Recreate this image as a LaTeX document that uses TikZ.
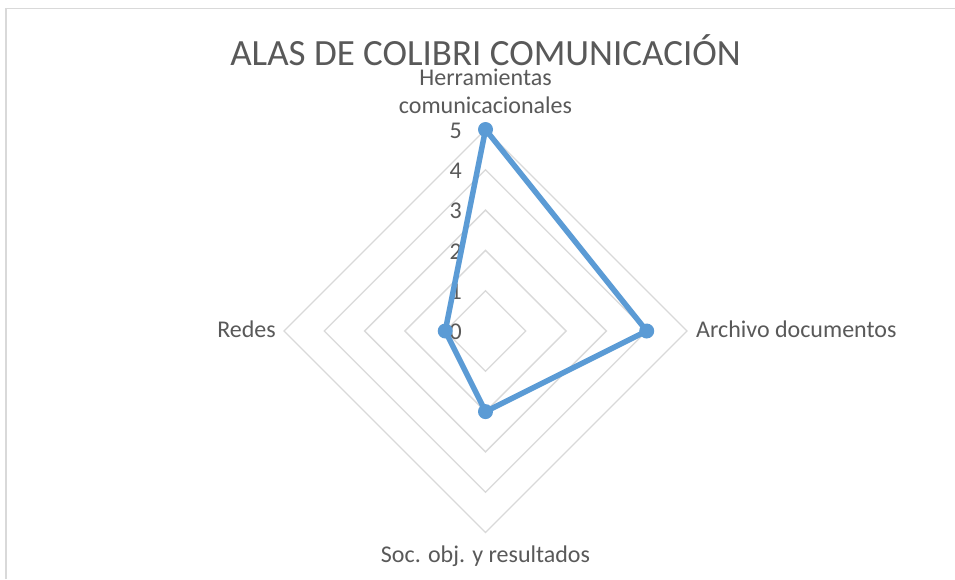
\documentclass[tikz,border=0pt]{standalone}
\usepackage{fontspec}
\setmainfont{Carlito}
\definecolor{gridc}{HTML}{D9D9D9}
\definecolor{txtc}{HTML}{595959}
\definecolor{serc}{HTML}{5B9BD5}
\begin{document}
\begin{tikzpicture}[x=1pt,y=-1pt,
  ring/.style={draw=gridc, line width=1.3pt},
  lbl/.style={text=txtc, font=\fontsize{24}{28.6}\selectfont, inner sep=0pt},
  ttl/.style={text=txtc, font=\fontsize{37}{42}\selectfont, inner sep=0pt},
  dot/.style={circle, fill=serc, inner sep=0pt, minimum size=15pt},
  serline/.style={draw=serc, line width=5.5pt, line join=round, line cap=round}]
\useasboundingbox (0,0) rectangle (955,579);
\fill[white] (0,0) rectangle (955,579);
% frame
\draw[gridc, line width=2pt] (6,579) -- (6,8.5);
\draw[gridc, line width=1pt] (5,8.5) -- (955,8.5);
% rings
\def\cx{485.5}\def\cy{331}\def\u{40.3}
\foreach \k in {1,...,5}{
  \draw[ring] (\cx,\cy-\k*\u) -- (\cx+\k*\u,\cy) -- (\cx,\cy+\k*\u) -- (\cx-\k*\u,\cy) -- cycle;
}
% radial labels
\foreach \k in {0,...,5}{
  \node[lbl, anchor=east] (r\k) at (462,\cy+1-\k*\u) {\k};
}
% title
\node[ttl, anchor=base] (title) at (485.5,65) {ALAS DE COLIBRI COMUNICACIÓN};
% axis labels
\node[lbl, anchor=base] (lh1) at (485.5,85.5) {Herramientas};
\node[lbl, anchor=base] (lh2) at (485.5,113) {comunicacionales};
\node[lbl, anchor=base east] (lr) at (276,337.3) {Redes};
\node[lbl, anchor=base west] (la) at (696,337.3) {Archivo documentos};
\node[lbl, anchor=base] (ls) at (485.5,562.7) {Soc. obj. y resultados};
% series
\coordinate (pH) at (\cx,\cy-5*\u);
\coordinate (pA) at (\cx+4*\u,\cy);
\coordinate (pS) at (\cx,\cy+2*\u);
\coordinate (pR) at (\cx-1*\u,\cy);
\draw[serline] (pH) -- (pA) -- (pS) -- (pR) -- cycle;
\node[dot] (dH) at (pH) {};
\node[dot] (dA) at (pA) {};
\node[dot] (dS) at (pS) {};
\node[dot] (dR) at (pR) {};
\end{tikzpicture}
\end{document}
